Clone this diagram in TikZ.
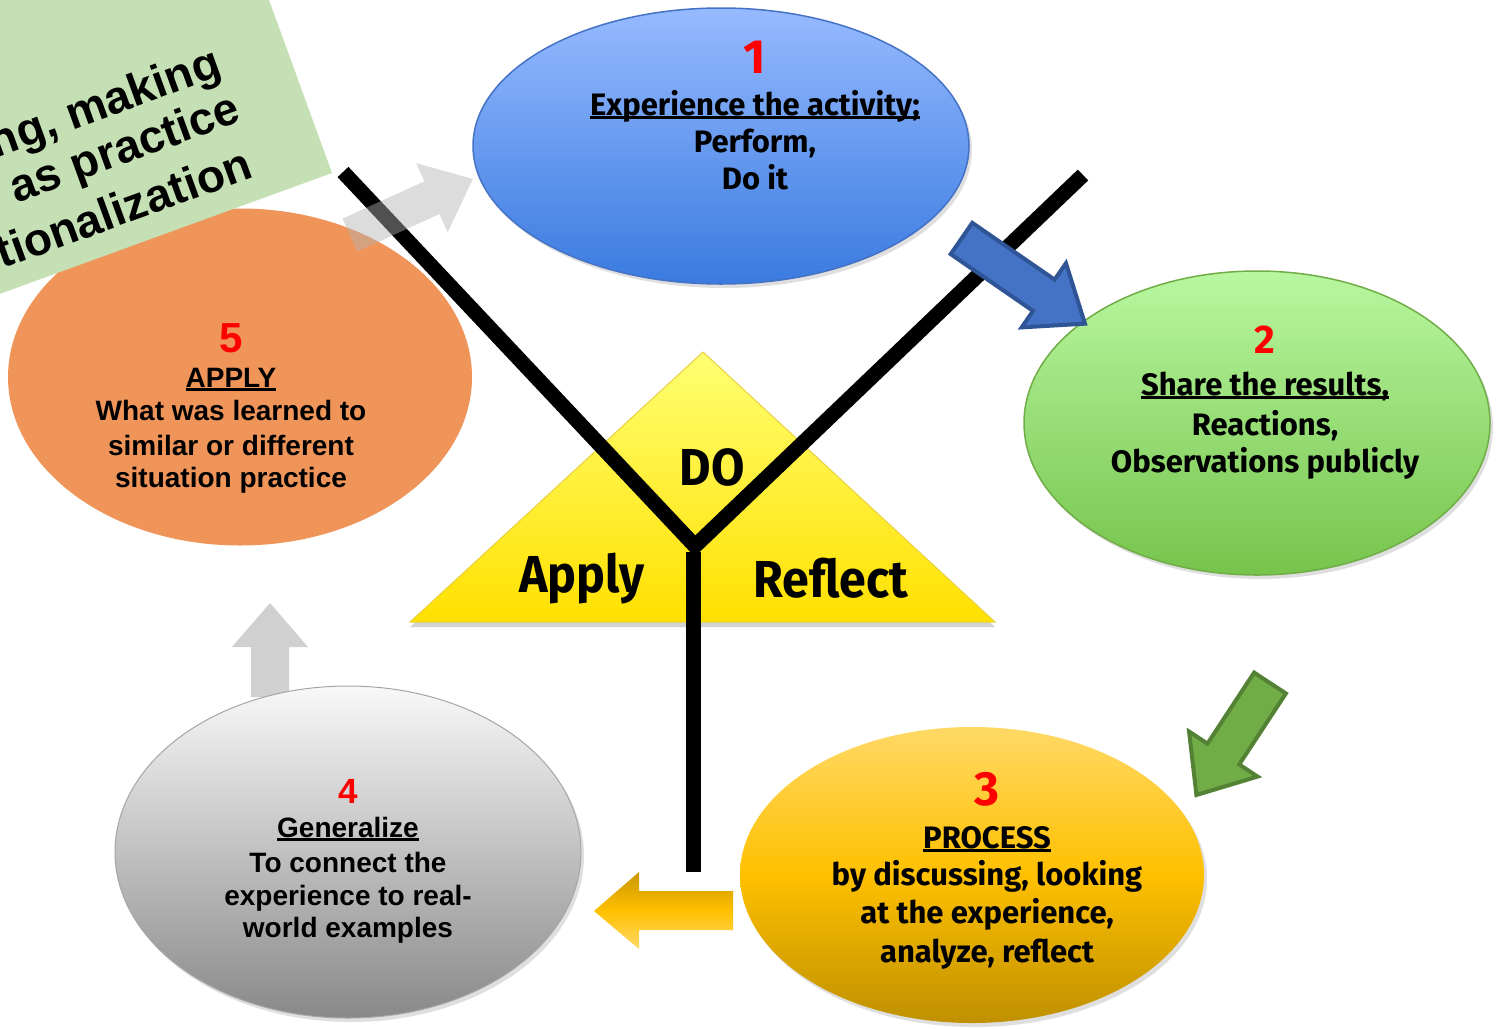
\documentclass[tikz,border=0pt]{standalone}
\usepackage{fontspec}
\setmainfont{Liberation Sans}
\newfontfamily\barl{Fira Sans}
\newfontfamily\barlt[FakeStretch=0.93]{Fira Sans}
\usetikzlibrary{shapes.geometric,shadows}
\definecolor{bluetop}{HTML}{96BAFF}
\definecolor{bluebot}{HTML}{3A7BE0}
\definecolor{blueedge}{HTML}{4472C4}
\definecolor{greentop}{HTML}{B8F7A0}
\definecolor{greenbot}{HTML}{76C44C}
\definecolor{greenedge}{HTML}{70AD47}
\definecolor{goldA}{HTML}{FFD966}
\definecolor{goldB}{HTML}{FFC000}
\definecolor{goldC}{HTML}{BF9000}
\definecolor{grayA}{HTML}{F8F8F8}
\definecolor{grayB}{HTML}{898989}
\definecolor{grayedge}{HTML}{A6A6A6}
\definecolor{orng}{HTML}{F0955A}
\definecolor{rectgreen}{HTML}{C5E0B4}
\definecolor{triA}{HTML}{FFFF72}
\definecolor{triB}{HTML}{FFE000}
\definecolor{triedge}{HTML}{E8D040}
\definecolor{arrblue}{HTML}{4472C4}
\definecolor{arrblueedge}{HTML}{2F5597}
\definecolor{arrgreen}{HTML}{70AD47}
\definecolor{arrgreenedge}{HTML}{548235}
\definecolor{upgray}{HTML}{D0D0D0}
\newcommand\ulx[1]{\sbox0{#1}\rlap{\rule[-3.5pt]{\wd0}{2.2pt}}\usebox0}
\newcommand\barrow[7]{\begin{scope}[shift={(#1)},rotate=#2]\path[#3] (0,#6) -- (#5,#6) -- (#5,#7) -- (#4,0) -- (#5,-#7) -- (#5,-#6) -- (0,-#6) -- cycle;\end{scope}}
\begin{document}
\begin{tikzpicture}[x=1pt,y=-1pt,
  ell/.style={ellipse, inner sep=0pt},
  shad/.style={drop shadow={opacity=0.25, shadow xshift=3pt, shadow yshift=-4pt}},
  tb/.style={anchor=base, inner sep=0pt, font=\barl\bfseries\fontsize{31}{31}\selectfont},
  ta/.style={anchor=base, inner sep=0pt, font=\bfseries\fontsize{28}{28}\selectfont},
  tri/.style={anchor=base, inner sep=0pt, font=\barlt\bfseries\fontsize{52}{52}\selectfont},
  rt/.style={anchor=base east, inner sep=0pt, rotate=20, font=\bfseries\fontsize{46}{46}\selectfont},
  yline/.style={line width=15pt, black}
]
\useasboundingbox (0,0) rectangle (1498,1028);
\fill[white] (0,0) rectangle (1498,1028);
\clip (0,0) rectangle (1498,1028);

% gray up arrow
\fill[upgray] (270,603) -- (308,647) -- (289,647) -- (289,697) -- (251,697) -- (251,647) -- (232,647) -- cycle;

% ellipse 5 and green note
\node[ell, fill=orng, minimum width=464, minimum height=337] (e5) at (240,377) {};
\fill[rectgreen] (332,173) -- (-137.8,344) -- (-240.4,62.1) -- (229.4,-108.9) -- cycle;
\node[rt] (g1) at (224,75) {ng, making};
\node[rt] (g2) at (243,121) {as practice};
\node[rt] (g3) at (255,177) {tionalization};

% ellipses
\node[ell, shad, top color=bluetop, bottom color=bluebot, draw=blueedge, line width=1.5pt, minimum width=496, minimum height=276] (e1) at (721,146) {};
\node[ell, shad, top color=greentop, bottom color=greenbot, draw=greenedge, line width=1.5pt, minimum width=466, minimum height=304] (e2) at (1257,423) {};
\node[ell, shad, top color=goldA, bottom color=goldC, middle color=goldB, minimum width=464, minimum height=296] (e3) at (972,875) {};
\node[ell, shad, top color=grayA, bottom color=grayB, draw=grayedge, line width=1pt, minimum width=466, minimum height=332] (e4) at (348,852) {};

% texts ellipse 1
\node[tb, text=red, font=\barl\bfseries\fontsize{48}{48}\selectfont] (n1) at (755,73) {1};
\node[tb] (t1a) at (755,115) {\ulx{Experience the activity;}};
\node[tb] (t1b) at (755,152) {Perform,};
\node[tb] (t1c) at (755,189) {Do it};
% texts ellipse 2
\node[tb, text=red, font=\barl\bfseries\fontsize{40}{40}\selectfont] (n2) at (1265,353) {2};
\node[tb] (t2a) at (1265,395) {\ulx{Share the results,}};
\node[tb] (t2b) at (1265,435) {Reactions,};
\node[tb] (t2c) at (1265,472) {Observations publicly};
% texts ellipse 3
\node[tb, text=red, font=\barl\bfseries\fontsize{48}{48}\selectfont] (n3) at (987,805) {3};
\node[tb] (t3a) at (987,848) {\ulx{PROCESS}};
\node[tb] (t3b) at (987,885) {by discussing, looking};
\node[tb] (t3c) at (987,923) {at the experience,};
\node[tb] (t3d) at (987,962) {analyze, reflect};
% texts ellipse 4
\node[ta, text=red, font=\bfseries\fontsize{35}{35}\selectfont] (n4) at (348,803) {4};
\node[ta] (t4a) at (348,837) {\ulx{Generalize}};
\node[ta] (t4b) at (348,872) {To connect the};
\node[ta] (t4c) at (348,905) {experience to real-};
\node[ta] (t4d) at (348,937) {world examples};
% texts ellipse 5
\node[ta, text=red, font=\bfseries\fontsize{42}{42}\selectfont] (n5) at (231,352) {5};
\node[ta] (t5a) at (231,387) {\ulx{APPLY}};
\node[ta] (t5b) at (231,420) {What was learned to};
\node[ta] (t5c) at (231,455) {similar or different};
\node[ta] (t5d) at (231,487) {situation practice};

% triangle
\path[top color=triA, bottom color=triB, draw=triedge, line width=1pt, drop shadow={opacity=0.35, shadow xshift=0pt, shadow yshift=-5pt}] (703,352) -- (995,622) -- (410,622) -- cycle;

% Y lines
\coordinate (yl) at (343,172);
\coordinate (yr) at (1083,175);
\coordinate (yj) at (695,546);
\coordinate (ys) at (693,552);
\coordinate (yb) at (693,872);
\draw[yline] (yl) -- (yj) -- (yr);
\draw[yline] (ys) -- (yb);

% triangle words
\node[tri] (tdo) at (712,485) {DO};
\node[tri] (tap) at (582,592) {Apply};
\node[tri] (tre) at (831,597) {Reflect};

% block arrows
\barrow{350,235}{24.5}{fill=gray!60, fill opacity=0.45}{135}{90}{18}{38}
\barrow{961.5,238.5}{-34.6}{fill=arrblue, draw=arrblueedge, line width=4pt, line join=miter}{150}{100}{19}{39}
\barrow{1270,683}{-123.3}{fill=arrgreen, draw=arrgreenedge, line width=4pt, line join=miter}{134}{85}{19}{41}
\path[top color=goldC!85!goldB, bottom color=goldA, middle color=goldB] (733,891) -- (639,891) -- (639,872) -- (594,911) -- (639,949) -- (639,930) -- (733,930) -- cycle;
\end{tikzpicture}
\end{document}
